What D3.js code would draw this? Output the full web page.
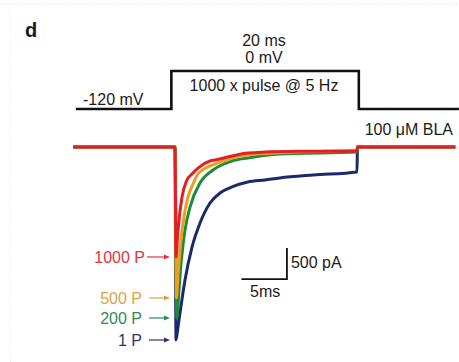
<!DOCTYPE html>
<html>
<head>
<meta charset="utf-8">
<script src="https://cdn.jsdelivr.net/npm/d3@7"></script>
<style>
  html, body { margin: 0; padding: 0; background: #fff; }
  svg text { font-family: 'Liberation Sans', Arial, sans-serif; fill: #1a1a1a; }
</style>
</head>
<body>
<figure id="trace" style="margin:0"></figure>
<script>
// pulse counts, colours
const traceNames = ['1 P', '200 P', '500 P', '1000 P'];
const traceColors = ['#1c2a6b', '#1e8a3a', '#e8a11c', '#e21f26'];
const labelColors = ['#2a3572', '#2f8a55', '#d9a443', '#e33440'];

// current traces: [time (ms), current (pA)]
const trace1P = [[-11.2, 0], [0, 0], [0.11, -3113], [0.33, -2904], [0.55, -2678], [1.1, -2145], [1.87, -1613],
  [2.75, -1226], [3.85, -903], [4.95, -742], [6.26, -645], [8, -565], [9.9, -532], [11.5, -500], [15.2, -452],
  [20, -403], [20.05, 0], [30.8, 0]];
const trace200P = [[-11.2, 0], [0, 0], [0.2, -2758], [0.44, -2307], [0.6, -1984], [0.88, -1581], [1.1, -1339],
  [1.65, -968], [2.75, -581], [4.18, -371], [6.26, -226], [8, -177], [11.5, -113], [20, -80], [20.05, 0], [30.8, 0]];
const trace500P = [[-11.2, 0], [0, 0], [0.16, -2435], [0.33, -2065], [0.55, -1661], [0.88, -1226], [1.43, -806],
  [1.98, -597], [2.53, -435], [3.85, -306], [4.4, -274], [6.26, -177], [8, -129], [12, -90], [20, -50], [20.05, 0], [30.8, 0]];
const trace1000P = [[-11.2, 0], [0, 0], [0.11, -1774], [0.33, -1339], [0.77, -806], [1.32, -532], [1.87, -435],
  [2.53, -339], [3.85, -226], [4.4, -210], [6.26, -145], [8, -97], [9.9, -81], [13.7, -70], [20, -65], [20.05, 0], [30.8, 0]];
const traces = [trace1P, trace200P, trace500P, trace1000P];

// voltage protocol: [time (ms), mV]
const voltage = [[-10.9, -120], [-0.4, -120], [-0.4, 0], [20.2, 0], [20.2, -120], [31.2, -120]];

// scale bar: 5 ms, 500 pA
const barMs = 5;
const barPa = 500;
const barOrigin = [12.3, -2130];

const width = 459;
const height = 362;

const svg = d3.select('figure#trace')
  .append('svg')
  .attr('width', width)
  .attr('height', height);

// faint dotted frame
svg.append('line').attr('x1', 0).attr('x2', width).attr('y1', 3.5).attr('y2', 3.5)
  .attr('stroke', '#ddd').attr('stroke-dasharray', '1,2');
svg.append('line').attr('x1', 10.5).attr('x2', 10.5).attr('y1', 10).attr('y2', height)
  .attr('stroke', '#e6e6e6').attr('stroke-dasharray', '1,2');

const x = d3.scaleLinear().domain([0, 5]).range([175, 220.5]);
const y = d3.scaleLinear().domain([0, -500]).range([147, 178]);
const vy = d3.scaleLinear().domain([-120, 0]).range([109, 71]);

// voltage step
const vLine = d3.line().x(d => x(d[0])).y(d => vy(d[1]));
svg.append('path')
  .datum(voltage)
  .attr('d', vLine)
  .attr('fill', 'none')
  .attr('stroke', '#111')
  .attr('stroke-width', 2.6);

// current traces
const line = d3.line().x(d => x(d[0])).y(d => y(d[1])).curve(d3.curveMonotoneX);
svg.append('g')
  .selectAll('path')
  .data(traces)
  .enter()
  .append('path')
  .attr('d', line)
  .attr('fill', 'none')
  .attr('stroke', (d, i) => traceColors[i])
  .attr('stroke-width', 3)
  .attr('stroke-linejoin', 'round');

// arrows pointing at each peak
const arrows = svg.append('g');
traces.forEach((tr, i) => {
  const peak = d3.min(tr, d => d[1]);
  const py = y(peak);
  const x0 = i === 3 ? 147 : 149;
  const x1 = 170;
  arrows.append('line')
    .attr('x1', x0).attr('x2', x1 - 4)
    .attr('y1', py).attr('y2', py)
    .attr('stroke', labelColors[i]).attr('stroke-width', 1.2);
  arrows.append('path')
    .attr('d', `M${x1},${py} L${x1 - 6},${py - 2.5} L${x1 - 6},${py + 2.5} Z`)
    .attr('fill', labelColors[i]);
  arrows.append('text')
    .attr('x', i === 3 ? 145 : 142)
    .attr('y', py + 6)
    .attr('text-anchor', 'end')
    .attr('font-size', 16)
    .style('fill', labelColors[i])
    .text(traceNames[i]);
});

// scale bar
const sbx = x(barOrigin[0]);
const sby = y(barOrigin[1]);
svg.append('path')
  .attr('d', `M${x(barOrigin[0] - barMs)},${sby} L${sbx},${sby} L${sbx},${y(barOrigin[1] + barPa)}`)
  .attr('fill', 'none')
  .attr('stroke', '#111')
  .attr('stroke-width', 1.8);
svg.append('text').text('500 pA').attr('x', sbx + 4).attr('y', sby - 11).attr('font-size', 16);
svg.append('text').text('5ms').attr('x', x(barOrigin[0] - barMs / 2) + 1).attr('y', sby + 18)
  .attr('text-anchor', 'middle').attr('font-size', 16);

// annotations
svg.append('text').text('d').attr('x', 25).attr('y', 37).attr('font-size', 20).attr('font-weight', 'bold');
svg.append('text').text('20 ms').attr('x', 264).attr('y', 46).attr('text-anchor', 'middle').attr('font-size', 16);
svg.append('text').text('0 mV').attr('x', 264).attr('y', 63).attr('text-anchor', 'middle').attr('font-size', 16);
svg.append('text').text('1000 x pulse @ 5 Hz').attr('x', 264).attr('y', 91).attr('text-anchor', 'middle').attr('font-size', 16);
svg.append('text').text('-120 mV').attr('x', 83).attr('y', 105).attr('font-size', 16);
svg.append('text').text('100 μM BLA').attr('x', 453).attr('y', 135).attr('text-anchor', 'end').attr('font-size', 16);
</script>
</body>
</html>
